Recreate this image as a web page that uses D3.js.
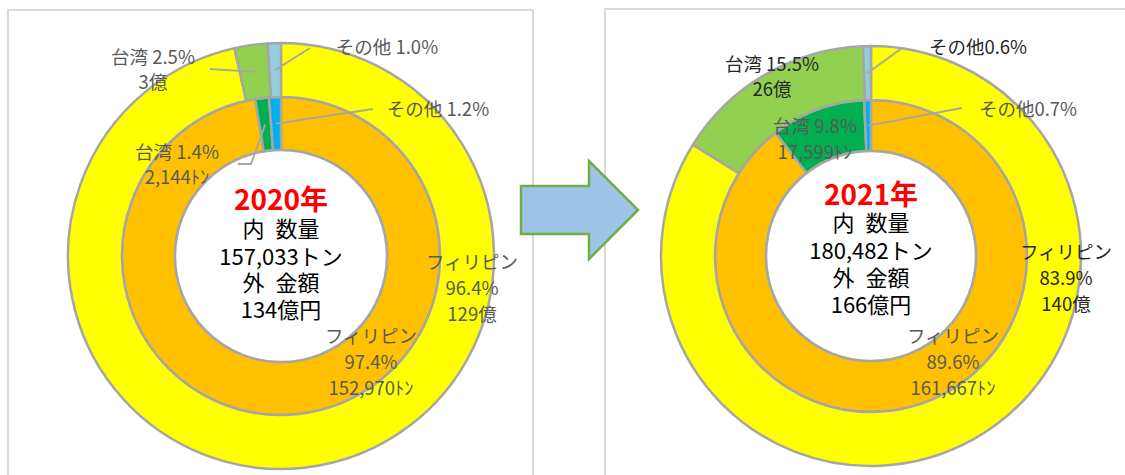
<!DOCTYPE html>
<html>
<head>
<meta charset="utf-8">
<script src="https://cdn.jsdelivr.net/npm/d3@7"></script>
<style>
  body { margin: 0; background: #fff; }
  svg { display: block; }
</style>
</head>
<body>
<div id="chart"></div>
<script>
// ---- data ----
const countries = ["フィリピン", "台湾", "その他"];
const years = ["2020", "2021"];
// outer ring: 金額シェア(%) and 億円
const amountShare2020 = [96.4, 2.5, 1.0];
const amountOku2020 = [129, 3, null];
const amountShare2021 = [83.9, 15.5, 0.6];
const amountOku2021 = [140, 26, null];
// inner ring: 数量シェア(%) and トン
const volumeShare2020 = [97.4, 1.4, 1.2];
const volumeTon2020 = [152970, 2144, null];
const volumeShare2021 = [89.6, 9.8, 0.7];
const volumeTon2021 = [161667, 17599, null];
const totalTon = [157033, 180482];
const totalOku = [134, 166];

const outerColors = ["#FFFF00", "#92D050", "#93CDDD"];
const innerColors = ["#FFC000", "#00B050", "#00B0F0"];

const W = 1125, H = 475;
const svg = d3.select("#chart").append("svg")
  .attr("width", W).attr("height", H)
  .style("font-family", "'Noto Sans CJK JP', 'Noto Sans', sans-serif");

// panel frames
svg.append("rect").attr("x", 8).attr("y", 10).attr("width", 525).attr("height", 520)
  .attr("fill", "none").attr("stroke", "#D9D9D9").attr("stroke-width", 2);
svg.append("rect").attr("x", 605).attr("y", 9).attr("width", 560).attr("height", 520)
  .attr("fill", "none").attr("stroke", "#D9D9D9").attr("stroke-width", 2);

// arrow between the panels
svg.append("path")
  .attr("d", "M521,186 L589,186 L589,161 L638,210 L589,259 L589,234 L521,234 Z")
  .attr("fill", "#9DC3E6").attr("stroke", "#70AD47").attr("stroke-width", 2.5)
  .attr("stroke-linejoin", "miter");

// layout of each panel (label offsets are relative to the chart centre)
const panels = [
  {
    cx: 281, cy: 256, r: [106, 159, 213],
    outer: { share: amountShare2020, val: amountOku2020 },
    inner: { share: volumeShare2020, val: volumeTon2020 },
    outerColor: "#595959", sep: " ",
    outerLab: [
      { at: [191, 7], lh: 26 },
      { at: [-128, -198], lh: 25, from: [[-71, -187]] },
      { at: [106, -208], from: [[29, -208]] }
    ],
    innerLab: [
      { at: [90, 81], lh: 26 },
      { at: [-104, -103], lh: 25, from: [[-43, -92], [-30, -92]] },
      { at: [157, -146], from: [[92, -147]] }
    ],
    yearY: -56, lines: [-27, 1, 27, 54]
  },
  {
    cx: 871, cy: 256, r: [105, 156, 210],
    outer: { share: amountShare2021, val: amountOku2021 },
    inner: { share: volumeShare2021, val: volumeTon2021 },
    outerColor: "#262626", sep: "",
    outerLab: [
      { at: [195, -3], lh: 26 },
      { at: [-99, -191], lh: 25 },
      { at: [107, -208], from: [[31, -208]] }
    ],
    innerLab: [
      { at: [82, 81], lh: 26 },
      { at: [-56, -129], lh: 26 },
      { at: [157, -146], from: [[91, -148]] }
    ],
    yearY: -61, lines: [-33, -5, 22, 49]
  }
];

const pie = d3.pie().sort(null).value(d => d);
const fmt = d3.format(",");

panels.forEach((p, pi) => {
  const g = svg.append("g").attr("transform", `translate(${p.cx},${p.cy})`);

  const rings = [
    { data: p.inner.share, colors: innerColors, r0: p.r[0], r1: p.r[1] },
    { data: p.outer.share, colors: outerColors, r0: p.r[1], r1: p.r[2] }
  ];
  const arcs = rings.map(ring => {
    const arc = d3.arc().innerRadius(ring.r0).outerRadius(ring.r1);
    const slices = pie(ring.data);
    g.append("g").selectAll("path")
      .data(slices)
      .enter().append("path")
      .attr("d", arc)
      .attr("fill", (d, i) => ring.colors[i])
      .attr("stroke", "#A6A6A6")
      .attr("stroke-width", 2.5)
      .attr("stroke-linejoin", "round");
    return { arc, slices };
  });

  // white hole
  g.append("circle").attr("r", p.r[0]).attr("fill", "#fff")
    .attr("stroke", "#A6A6A6").attr("stroke-width", 2.5);

  // data labels
  function labelText(ringKey, i) {
    const share = p[ringKey].share[i].toFixed(1) + "%";
    const v = p[ringKey].val[i];
    const unit = ringKey === "outer" ? "億" : "ﾄﾝ";
    if (i === 0) return [countries[0], share, fmt(v) + unit];
    if (i === 1) return [countries[1] + " " + share, fmt(v) + unit];
    return [countries[2] + p.sep + share];
  }

  [["inner", p.innerLab, arcs[0], "#595959"], ["outer", p.outerLab, arcs[1], p.outerColor]]
    .forEach(([key, labs, a, col]) => {
      labs.forEach((lab, i) => {
        if (lab.from) {
          const c = a.arc.centroid(a.slices[i]);
          const pts = lab.from.concat([c]);
          g.append("path")
            .attr("d", d3.line()(pts))
            .attr("fill", "none")
            .attr("stroke", "#A6A6A6")
            .attr("stroke-width", 1.8);
        }
        const t = g.append("text")
          .attr("text-anchor", "middle")
          .attr("fill", col)
          .style("font-size", "18.5px");
        labelText(key, i).forEach((s, k) => {
          t.append("tspan")
            .attr("x", lab.at[0])
            .attr("y", lab.at[1] + k * (lab.lh || 25))
            .attr("dy", "0.35em")
            .text(s);
        });
      });
    });

  // centre text
  g.append("text")
    .attr("text-anchor", "middle").attr("y", p.yearY).attr("dy", "0.35em")
    .attr("fill", "#FF0000").style("font-size", "28px").style("font-weight", "bold")
    .text(years[pi] + "年");
  const centre = ["内\u2002数量", fmt(totalTon[pi]) + "トン", "外\u2002金額", totalOku[pi] + "億円"];
  g.append("g").selectAll("text")
    .data(centre)
    .enter().append("text")
    .attr("text-anchor", "middle")
    .attr("y", (d, i) => p.lines[i])
    .attr("dy", "0.35em")
    .attr("fill", "#000")
    .style("font-size", "22px")
    .text(d => d);
});
</script>
</body>
</html>
